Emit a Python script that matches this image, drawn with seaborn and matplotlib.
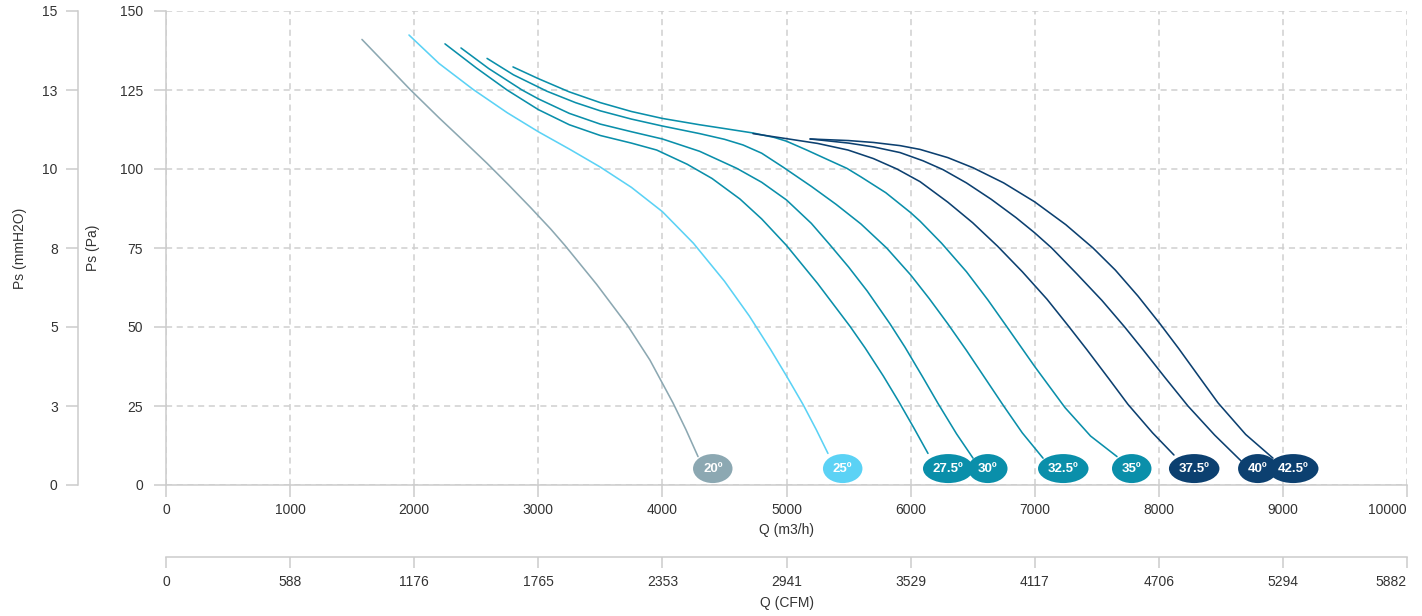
import numpy as np
import pandas as pd
import matplotlib
matplotlib.use("Agg")
import matplotlib.pyplot as plt
import seaborn as sns
from matplotlib.patches import Ellipse

sns.set_theme(style="ticks")
plt.rcParams['font.family'] = ['Liberation Sans', 'DejaVu Sans']

# ---------------- data ----------------
labels = ["20º", "25º", "27.5º", "30º", "32.5º", "35º", "37.5º", "40º", "42.5º"]
colors = ["#8ca8b2", "#5bd2f5", "#0a8faa", "#0a8faa", "#0a8faa", "#0a8faa",
          "#0c4070", "#0c4070", "#0c4070"]

q_20 = [1579, 1780, 1966, 2200, 2400, 2587, 2760, 2933, 3100, 3215, 3470, 3719, 3900, 4085, 4190, 4287]
p_20 = [141, 132.8, 125.2, 116.2, 108.8, 101.8, 95, 88, 81, 75.8, 63.5, 50.5, 39.5, 26, 17.5, 9]

q_25 = [1958, 2200, 2474, 2750, 3000, 3255, 3500, 3750, 4000, 4250, 4500, 4700, 4870, 5000, 5133, 5240, 5334]
p_25 = [142.4, 133.4, 125.2, 117.8, 111.8, 106.2, 100.6, 94.2, 86.5, 76.5, 64.5, 53.5, 43, 34.5, 25.5, 17.5, 10]

q_275 = [2248, 2500, 2748, 3000, 3250, 3500, 3750, 3954, 4200, 4400, 4625, 4800, 5000, 5250, 5512, 5633, 5780, 5906, 6030, 6140]
p_275 = [139.6, 132.0, 125.0, 118.8, 114.0, 110.6, 108.2, 106.0, 101.5, 97.0, 90.5, 84.2, 75.8, 63.8, 50.2, 43.4, 34.5, 26.3, 17.8, 10]

q_30 = [2377, 2600, 2869, 3000, 3250, 3500, 3750, 4000, 4300, 4600, 4800, 5000, 5200, 5350, 5500, 5650, 5834, 5955, 6100, 6221, 6370, 6503]
p_30 = [138.3, 131.8, 125.0, 122.2, 117.6, 114.2, 111.8, 109.5, 105.6, 100.2, 95.8, 90.2, 82.8, 76.0, 69.0, 61.4, 51.0, 43.6, 34.0, 25.8, 16.2, 8.5]

q_325 = [2587, 2800, 3070, 3300, 3500, 3750, 4000, 4300, 4500, 4650, 4800, 4972, 5200, 5400, 5600, 5807, 6000, 6150, 6300, 6450, 6600, 6750, 6900, 7067]
p_325 = [135, 129.8, 124.6, 121, 118.4, 115.8, 113.6, 111.2, 109.4, 107.6, 105, 100.6, 94.5, 88.8, 82.6, 75, 66.5, 59, 51, 42.6, 33.8, 25, 16.5, 8.5]

q_35 = [2796, 3000, 3250, 3500, 3750, 4000, 4300, 4500, 4730, 4900, 5000, 5163, 5330, 5487, 5600, 5800, 6000, 6076, 6250, 6450, 6624, 6777, 7000, 7244, 7450, 7663]
p_35 = [132.3, 128.6, 124.4, 121, 118.2, 116, 114, 112.8, 111.4, 110, 108.8, 106, 103, 100.2, 97.5, 92.5, 86.2, 83.5, 76.5, 67.5, 58.5, 50, 37.5, 24.5, 15.5, 9]

q_375 = [4730, 5000, 5250, 5496, 5700, 5890, 6076, 6300, 6500, 6700, 6900, 7099, 7268, 7421, 7600, 7752, 7950, 8122]
p_375 = [111.2, 109.6, 108.1, 106, 103.3, 100, 96, 89.5, 83, 75.6, 67.5, 58.8, 50.5, 42.8, 33.5, 25.5, 16.5, 9.5]

q_40 = [5190, 5500, 5700, 5915, 6100, 6261, 6450, 6650, 6850, 7000, 7137, 7340, 7542, 7725, 7873, 8050, 8235, 8450, 8679]
p_40 = [109.5, 108.2, 107.0, 105.2, 102.6, 99.8, 95.6, 90.4, 84.6, 79.8, 75, 66.8, 58.4, 50, 42.8, 34, 25, 15.8, 7]

q_425 = [5190, 5500, 5700, 5915, 6076, 6300, 6503, 6750, 7000, 7250, 7470, 7650, 7832, 8010, 8160, 8320, 8477, 8700, 8920]
p_425 = [109.5, 109.0, 108.4, 107.4, 106.2, 103.6, 100.4, 95.6, 89.6, 82.4, 75, 68.0, 59.8, 51, 43.2, 34.5, 26, 16, 8.5]

q_series = [q_20, q_25, q_275, q_30, q_325, q_35, q_375, q_40, q_425]
p_series = [p_20, p_25, p_275, p_30, p_325, p_35, p_375, p_40, p_425]

pa_ticks = [0, 25, 50, 75, 100, 125, 150]
mm_labels = ["0", "3", "5", "8", "10", "13", "15"]
q_ticks = [0, 1000, 2000, 3000, 4000, 5000, 6000, 7000, 8000, 9000, 10000]
cfm_labels = ["0", "588", "1176", "1765", "2353", "2941", "3529", "4117", "4706", "5294", "5882"]

# ---------------- figure ----------------
W, H = 1422, 616
fig = plt.figure(figsize=(W / 100, H / 100), dpi=100)
left, right, top, bottom = 166 / W, 1407 / W, 1 - 11 / H, 1 - 485 / H
ax = fig.add_axes([left, bottom, right - left, top - bottom])

rows = []
for lab, qs, ps in zip(labels, q_series, p_series):
    for i, (q, p) in enumerate(zip(qs, ps)):
        rows.append({"Q": q, "P": p, "curve": lab, "i": i})
df = pd.DataFrame(rows)

sns.lineplot(data=df, x="Q", y="P", hue="curve", palette=dict(zip(labels, colors)),
             sort=False, estimator=None, legend=False, linewidth=1.15, ax=ax, zorder=3)
for ln in ax.get_lines():
    ln.set_solid_joinstyle("round")

ax.set_xlim(0, 10000)
ax.set_ylim(0, 150)

grid_c = "#cfcfcf"
spine_c = "#cccccc"
txt_c = "#333333"
fs = 10

ax.set_xticks(q_ticks)
ax.set_xticklabels([str(v) for v in q_ticks])
ax.set_yticks(pa_ticks)
ax.set_yticklabels([str(v) for v in pa_ticks])
ax.grid(True, linestyle=(0, (4, 3)), color=grid_c, linewidth=1.1, zorder=0)
ax.set_axisbelow(True)
for s in ["top", "right"]:
    ax.spines[s].set_visible(False)
for s in ["left", "bottom"]:
    ax.spines[s].set_color(spine_c)
    ax.spines[s].set_linewidth(1.1)
ax.tick_params(axis="y", length=8.6, width=1.1, color=spine_c, labelsize=fs, labelcolor=txt_c, pad=8)
ax.tick_params(axis="x", length=8.6, width=1.1, color=spine_c, labelsize=fs, labelcolor=txt_c, pad=4)
ax.get_xticklabels()[-1].set_horizontalalignment("right")
ax.set_xlabel("Q (m3/h)", fontsize=fs, color=txt_c, labelpad=5)
ax.set_ylabel("Ps (Pa)", fontsize=fs, color=txt_c, labelpad=14)

# secondary y axis (mmH2O)
ax_w_px = (right - left) * W
ax_h_px = (top - bottom) * H
sec_y = ax.secondary_yaxis(-(166 - 78) / ax_w_px)
sec_y.set_yticks(pa_ticks)
sec_y.set_yticklabels(mm_labels)
for s in sec_y.spines.values():
    s.set_color(spine_c)
    s.set_linewidth(1.1)
sec_y.tick_params(axis="y", length=8.6, width=1.1, color=spine_c, labelsize=fs, labelcolor=txt_c, pad=6)
sec_y.set_ylabel("Ps (mmH2O)", fontsize=fs, color=txt_c, labelpad=11)

# secondary x axis (CFM)
sec_x = ax.secondary_xaxis(-(557 - 485) / ax_h_px)
sec_x.set_xticks(q_ticks)
sec_x.set_xticklabels(cfm_labels)
for s in sec_x.spines.values():
    s.set_color(spine_c)
    s.set_linewidth(1.1)
sec_x.tick_params(axis="x", length=8, width=1.1, color=spine_c, labelsize=fs, labelcolor=txt_c, pad=5)
sec_x.get_xticklabels()[-1].set_horizontalalignment("right")
sec_x.set_xlabel("Q (CFM)", fontsize=fs, color=txt_c, labelpad=5)

# label bubbles at the end of each curve
q_per_px = 10000 / ax_w_px
p_per_px = 150 / ax_h_px
label_p = 5.2
for lab, col, qs in zip(labels, colors, q_series):
    w_px = 23 + 5.5 * len(lab)
    cx = qs[-1] + (w_px / 2 - 5) * q_per_px
    ax.add_patch(Ellipse((cx, label_p), width=w_px * q_per_px, height=29 * p_per_px,
                         facecolor=col, edgecolor="none", zorder=5, clip_on=False))
    ax.text(cx, label_p, lab, color="white", fontsize=9.5, fontweight="bold",
            ha="center", va="center", zorder=6)

fig.savefig("out.png", dpi=100)
